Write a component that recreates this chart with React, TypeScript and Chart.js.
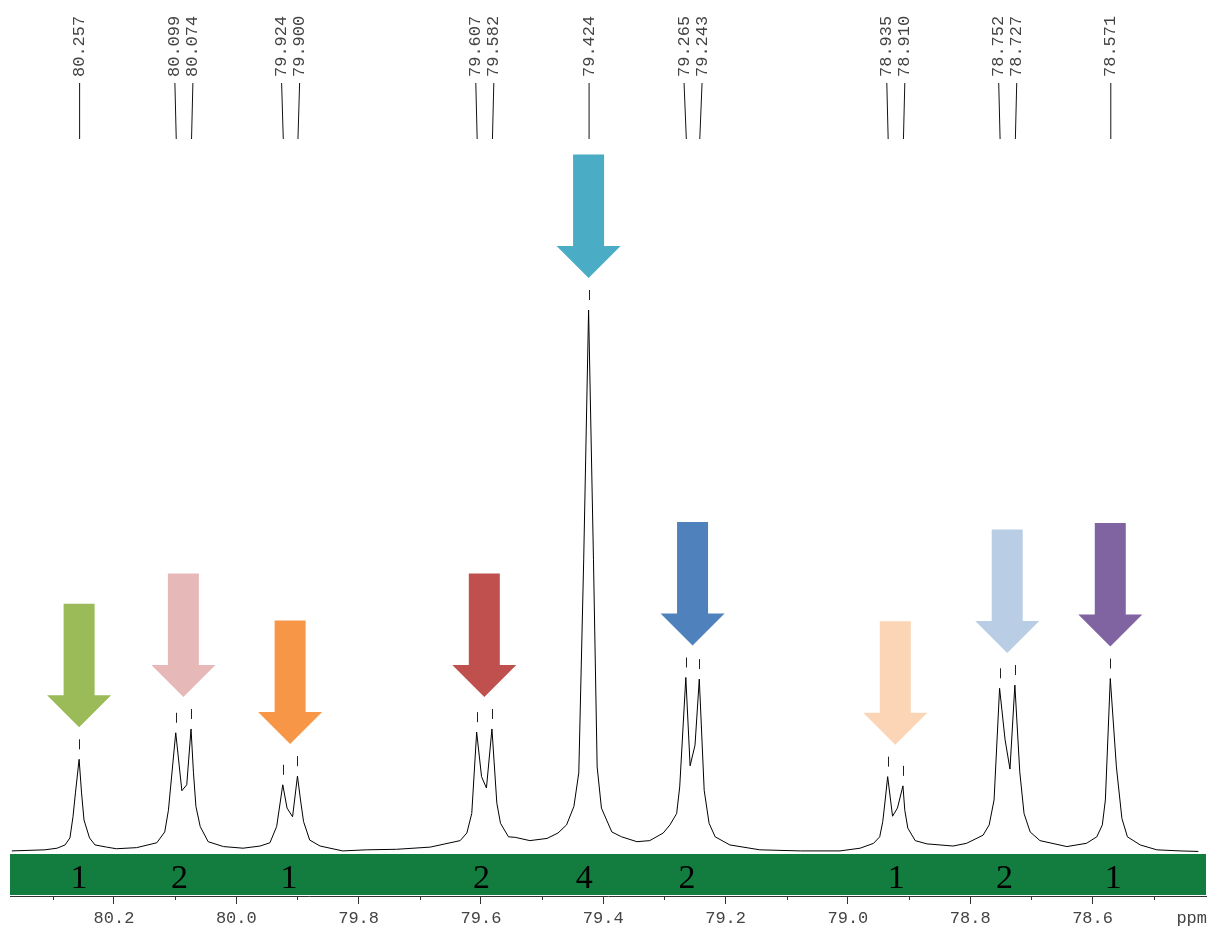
import React, { useEffect, useRef } from 'react';
import { Chart, registerables } from 'chart.js';

Chart.register(...registerables);

// ---- spectrum (ppm, relative intensity; tallest peak = 100) ----
const spectrumPpm = [
  80.367, 80.313, 80.293, 80.280, 80.272, 80.267, 80.263, 80.257, 80.253, 80.249,
  80.240, 80.231, 80.212, 80.196, 80.163, 80.130, 80.117, 80.111, 80.099, 80.089,
  80.081, 80.074, 80.070, 80.066, 80.059, 80.046, 80.021, 79.989, 79.961, 79.945,
  79.934, 79.924, 79.917, 79.908, 79.900, 79.895, 79.890, 79.880, 79.863, 79.826,
  79.787, 79.738, 79.683, 79.634, 79.623, 79.615, 79.607, 79.599, 79.591, 79.582,
  79.574, 79.568, 79.555, 79.544, 79.520, 79.492, 79.474, 79.460, 79.448, 79.440,
  79.432, 79.424, 79.416, 79.410, 79.403, 79.386, 79.370, 79.345, 79.324, 79.302,
  79.291, 79.280, 79.275, 79.265, 79.258, 79.250, 79.243, 79.235, 79.227, 79.217,
  79.193, 79.144, 79.078, 79.013, 78.980, 78.958, 78.948, 78.943, 78.939, 78.935,
  78.927, 78.919, 78.910, 78.907, 78.902, 78.890, 78.871, 78.828, 78.806, 78.779,
  78.769, 78.761, 78.752, 78.743, 78.735, 78.727, 78.719, 78.712, 78.702, 78.686,
  78.642, 78.610, 78.593, 78.584, 78.579, 78.571, 78.561, 78.552, 78.543, 78.522,
  78.495, 78.457, 78.427,
];
const spectrumIntensity = [
  0.2, 0.4, 0.7, 1.3, 2.6, 6.5, 10.9, 17.1, 10.9, 5.9,
  2.6, 1.3, 0.9, 0.6, 0.8, 1.7, 3.7, 7.7, 22.0, 11.3,
  12.4, 22.7, 14.6, 8.4, 4.7, 1.9, 1.0, 0.7, 1.1, 1.7,
  4.7, 12.4, 8.1, 6.5, 14.0, 9.6, 5.6, 2.2, 1.1, 0.2,
  0.4, 0.5, 0.9, 2.1, 3.5, 7.1, 22.1, 13.9, 11.8, 22.7,
  9.0, 5.3, 2.8, 2.7, 2.1, 2.5, 3.5, 5.0, 8.4, 14.6,
  53.9, 100, 53.9, 15.7, 8.1, 3.7, 2.8, 1.9, 2.1, 3.5,
  5.0, 7.1, 12.0, 32.2, 15.9, 19.7, 31.9, 11.4, 5.3, 2.8,
  1.3, 0.4, 0.2, 0.2, 0.7, 1.6, 2.8, 5.6, 9.6, 13.9,
  6.6, 8.1, 12.2, 7.7, 4.4, 2.1, 1.5, 1.1, 1.6, 3.1,
  5.0, 9.6, 30.2, 20.7, 15.3, 30.8, 14.8, 7.1, 3.7, 2.1,
  1.0, 1.6, 2.8, 5.0, 9.6, 32.0, 15.7, 6.2, 2.8, 1.3,
  0.4, 0.2, 0.1,
];

// ---- picked peaks and multiplets ----
const peakShifts = [
  80.257, 80.099, 80.074, 79.924, 79.900, 79.607, 79.582, 79.424,
  79.265, 79.243, 78.935, 78.910, 78.752, 78.727, 78.571,
];
const multipletSizes = [1, 2, 2, 2, 1, 2, 2, 2, 1];
const arrowColors = [
  '#9BBB59', '#E6B9B8', '#F79646', '#C0504D', '#4BACC6',
  '#4F81BD', '#FBD5B5', '#B9CDE5', '#8064A2',
];

// ---- integrals ----
const integralValues = [1, 2, 1, 2, 4, 2, 1, 2, 1];
const integralShifts = [80.257, 80.093, 79.914, 79.599, 79.431, 79.263, 78.921, 78.744, 78.566];

// ---- axis ----
const xMin = 78.4145;
const xMax = 80.370;
const majorTicks = [80.2, 80.0, 79.8, 79.6, 79.4, 79.2, 79.0, 78.8, 78.6];
const minorTicks = [80.3, 80.1, 79.9, 79.7, 79.5, 79.3, 79.1, 78.9, 78.7, 78.5];
const axisUnit = 'ppm';

const MONO = '"Liberation Mono", "DejaVu Sans Mono", monospace';

function spreadLabels(px: number[], minGap: number): number[] {
  type Cl = { items: number[] };
  const clusters: Cl[] = px.map((p) => ({ items: [p] }));
  const pos = (c: Cl) => {
    const n = c.items.length;
    const mean = c.items.reduce((a, b) => a + b, 0) / n;
    return c.items.map((_, i) => mean + (i - (n - 1) / 2) * minGap);
  };
  let changed = true;
  while (changed) {
    changed = false;
    for (let i = 0; i < clusters.length - 1; i++) {
      const a = pos(clusters[i]);
      const b = pos(clusters[i + 1]);
      if (b[0] - a[a.length - 1] < minGap) {
        clusters[i] = { items: clusters[i].items.concat(clusters[i + 1].items) };
        clusters.splice(i + 1, 1);
        changed = true;
        break;
      }
    }
  }
  return clusters.flatMap(pos);
}

function intensityAt(ppm: number): number {
  let best = 0;
  let bd = Infinity;
  spectrumPpm.forEach((p, i) => {
    const d = Math.abs(p - ppm);
    if (d < bd) {
      bd = d;
      best = spectrumIntensity[i];
    }
  });
  return best;
}

const nmrPlugin = {
  id: 'nmrAnnotations',
  beforeDatasetsDraw(chart: any) {
    const { ctx, chartArea } = chart;
    const x = chart.scales.x;
    ctx.save();
    // integral bar
    ctx.fillStyle = '#137C3F';
    ctx.fillRect(chartArea.left, chartArea.bottom - 42, chartArea.right - chartArea.left, 41);
    ctx.fillStyle = '#000';
    ctx.font = '34px "Liberation Serif", "DejaVu Serif", serif';
    ctx.textAlign = 'center';
    ctx.textBaseline = 'alphabetic';
    integralShifts.forEach((s, i) => {
      ctx.fillText(String(integralValues[i]), x.getPixelForValue(s), chartArea.bottom - 8);
    });
    ctx.restore();
  },
  afterDatasetsDraw(chart: any) {
    const { ctx, chartArea } = chart;
    const x = chart.scales.x;
    const y = chart.scales.y;
    ctx.save();

    const peakPx = peakShifts.map((s) => x.getPixelForValue(s));
    const peakPy = peakShifts.map((s) => y.getPixelForValue(intensityAt(s)));

    // small marks above peaks
    ctx.strokeStyle = '#222';
    ctx.lineWidth = 1;
    peakPx.forEach((px, i) => {
      const xx = Math.round(px) + 0.5;
      ctx.beginPath();
      ctx.moveTo(xx, peakPy[i] - 20);
      ctx.lineTo(xx, peakPy[i] - 10);
      ctx.stroke();
    });

    // arrows
    let k = 0;
    multipletSizes.forEach((n, g) => {
      const idx = Array.from({ length: n }, (_, j) => k + j);
      k += n;
      const cx = idx.reduce((a, i) => a + peakPx[i], 0) / n;
      const top = Math.min(...idx.map((i) => peakPy[i]));
      const tip = top - 32;
      const sw = 15.5, hw = 32, hh = 32, sl = 91.5;
      ctx.fillStyle = arrowColors[g];
      ctx.beginPath();
      ctx.moveTo(cx, tip);
      ctx.lineTo(cx - hw, tip - hh);
      ctx.lineTo(cx - sw, tip - hh);
      ctx.lineTo(cx - sw, tip - hh - sl);
      ctx.lineTo(cx + sw, tip - hh - sl);
      ctx.lineTo(cx + sw, tip - hh);
      ctx.lineTo(cx + hw, tip - hh);
      ctx.closePath();
      ctx.fill();
    });

    // peak labels at top
    const labelX = spreadLabels(peakPx, 18);
    const top0 = chartArea.top;
    ctx.strokeStyle = '#111';
    ctx.lineWidth = 1;
    peakPx.forEach((px, i) => {
      ctx.beginPath();
      ctx.moveTo(labelX[i] + 0.5, top0 + 83);
      ctx.lineTo(px + 0.5, top0 + 139);
      ctx.stroke();
    });
    ctx.fillStyle = '#444';
    ctx.font = '17px ' + MONO;
    ctx.textAlign = 'left';
    ctx.textBaseline = 'middle';
    peakShifts.forEach((s, i) => {
      ctx.save();
      ctx.translate(labelX[i] + 0.5, top0 + 77);
      ctx.rotate(-Math.PI / 2);
      ctx.fillText(s.toFixed(3), 0, 0);
      ctx.restore();
    });

    // minor ticks
    ctx.strokeStyle = '#333';
    minorTicks.forEach((v) => {
      const xx = Math.round(x.getPixelForValue(v)) + 0.5;
      ctx.beginPath();
      ctx.moveTo(xx, chartArea.bottom);
      ctx.lineTo(xx, chartArea.bottom + 4);
      ctx.stroke();
    });

    // unit label
    ctx.fillStyle = '#444';
    ctx.font = '17px ' + MONO;
    ctx.textAlign = 'right';
    ctx.textBaseline = 'middle';
    ctx.fillText(axisUnit, chart.width, chartArea.bottom + 8 + 5.5 + 8.5);
    ctx.restore();
  },
};

export default function App() {
  const ref = useRef<HTMLCanvasElement | null>(null);
  useEffect(() => {
    document.body.style.margin = '0';
    if (!ref.current) return;
    const chart = new Chart(ref.current, {
      type: 'line',
      data: {
        datasets: [
          {
            data: spectrumPpm.map((p, i) => ({ x: p, y: spectrumIntensity[i] })),
            borderColor: '#000',
            borderWidth: 1,
            pointRadius: 0,
            tension: 0,
            fill: false,
          },
        ],
      },
      options: {
        animation: false,
        responsive: false,
        events: [],
        layout: { padding: { left: 10, right: 1, top: 0, bottom: 0 } },
        plugins: { legend: { display: false }, tooltip: { enabled: false } },
        scales: {
          x: {
            type: 'linear',
            reverse: true,
            min: xMin,
            max: xMax,
            afterBuildTicks: (scale: any) => {
              scale.ticks = majorTicks.map((v) => ({ value: v }));
            },
            ticks: {
              autoSkip: false,
              maxRotation: 0,
              includeBounds: false,
              padding: 5.5,
              color: '#444',
              font: { family: MONO, size: 17, lineHeight: 1 },
              callback: (v: any) => Number(v).toFixed(1),
            },
            grid: {
              display: true,
              drawOnChartArea: false,
              drawTicks: true,
              tickLength: 8,
              color: '#333',
              lineWidth: 1,
            },
            border: { display: true, color: '#333', width: 1 },
          },
          y: { display: false, min: -8.12, max: 157.2 },
        },
      },
      plugins: [nmrPlugin],
    } as any);
    return () => chart.destroy();
  }, []);
  return (
    <div style={{ width: 1207, height: 927, overflow: 'hidden' }}>
      <canvas ref={ref} width={1207} height={932} style={{ display: 'block' }} />
    </div>
  );
}
